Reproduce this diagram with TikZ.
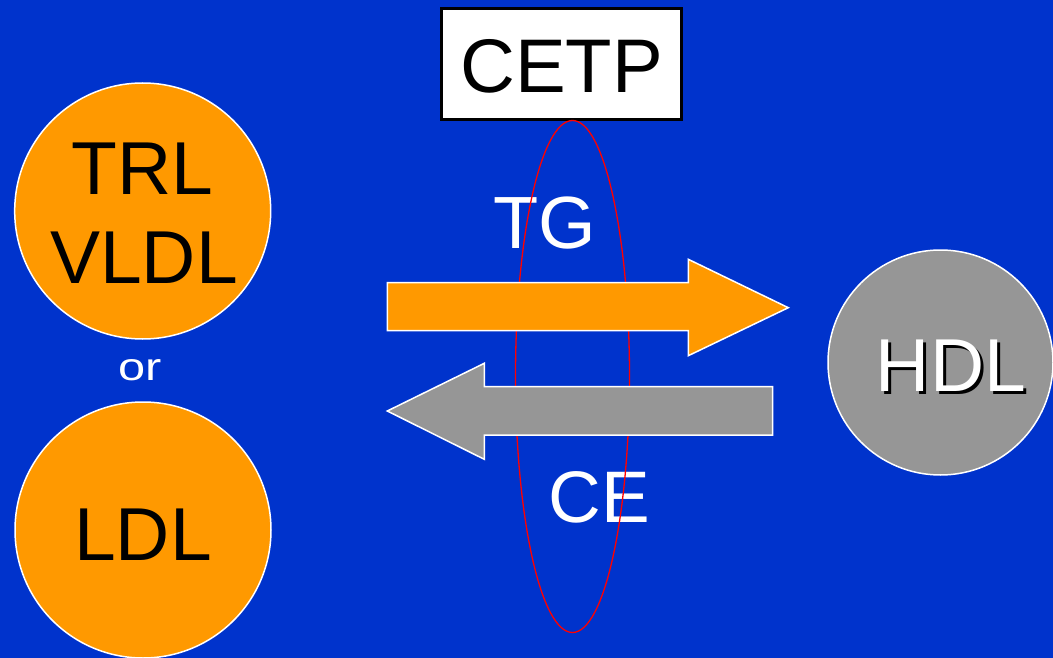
\documentclass[tikz,border=0pt]{standalone}
\usepackage{fontspec}
\setmainfont{Liberation Sans}
\definecolor{bgblue}{HTML}{0033CC}
\definecolor{orng}{HTML}{FF9900}
\definecolor{gry}{HTML}{969696}
\tikzset{
  big/.style={font=\fontsize{75}{88}\selectfont, inner sep=0pt, anchor=base},
  ball/.style={circle, draw=white, line width=1.5pt, inner sep=0pt},
  arrowshape/.style={draw=white, line width=1.5pt, line join=miter},
}
\begin{document}
\begin{tikzpicture}[x=1pt,y=-1pt]
\useasboundingbox (0,0) rectangle (1053,658);
\fill[bgblue] (0,0) rectangle (1053,658);
% circles
\node[ball, fill=orng, minimum size=256pt] (c1) at (142.7,211) {};
\node[ball, fill=orng, minimum size=256pt] (c2) at (143,530) {};
\node[ball, fill=gry, minimum size=225pt] (hdl) at (940.5,362.5) {};
% left texts
\node[big] (trl) at (142.5,195) {TRL};
\node[big] (vldl) at (144,283) {VLDL};
\node[big] (ldl) at (143,560) {LDL};
\node[font=\fontsize{39}{40}\selectfont, text=white, inner sep=0pt, anchor=base] (or) at (140.5,380) {\scalebox{1.25}[1]{or}};
% HDL with shadow
\node[big, text=black] (hdlsh) at (954,394.5) {HDL};
\node[big, text=white] (hdlt) at (951,391.5) {HDL};
% middle labels
\node[big, text=white, font=\fontsize{74}{80}\selectfont] (tg) at (545,248) {TG};
\node[big, text=white, font=\fontsize{73}{80}\selectfont] (ce) at (599,522) {CE};
% CETP box
\node[draw=black, line width=2.5pt, fill=white, minimum width=240pt, minimum height=111pt, inner sep=0pt] (cetp) at (561.5,64.2) {};
\node[big, font=\fontsize{76}{80}\selectfont] (cetpt) at (561.5,93) {CETP};
% ellipse
\draw[red, line width=1.3pt] (572.5,376.5) ellipse [x radius=57, y radius=256];
% arrows
\draw[arrowshape, fill=orng] (387.3,282.7) -- (688.3,282.7) -- (688.3,259.3) -- (788.3,307.7) -- (688.3,355.7) -- (688.3,330.7) -- (387.3,330.7) -- cycle;
\draw[arrowshape, fill=gry] (772.7,386.7) -- (484.3,386.7) -- (484.3,363.3) -- (387.3,411) -- (484.3,459.3) -- (484.3,435) -- (772.7,435) -- cycle;
\end{tikzpicture}
\end{document}
